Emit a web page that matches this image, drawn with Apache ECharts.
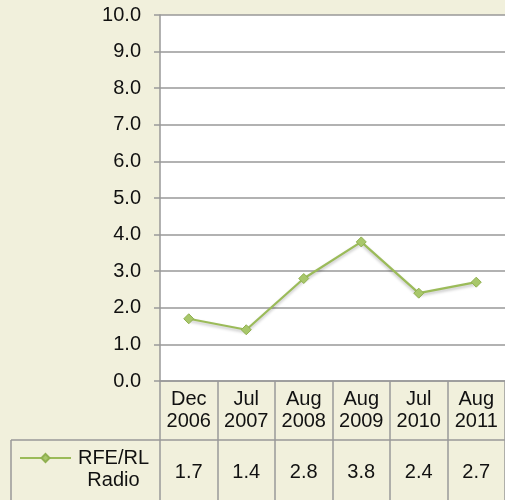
<!DOCTYPE html>
<html>
<head>
<meta charset="utf-8">
<script src="https://cdn.jsdelivr.net/npm/echarts@6/dist/echarts.min.js"></script>
<style>
html,body{margin:0;padding:0;background:#f1f0dc;}
#c{width:505px;height:500px;}
</style>
</head>
<body>
<div id="c"></div>
<script>
const categories = ['Dec\n2006', 'Jul\n2007', 'Aug\n2008', 'Aug\n2009', 'Jul\n2010', 'Aug\n2011'];
const seriesName = 'RFE/RL Radio';
const values = [1.7, 1.4, 2.8, 3.8, 2.4, 2.7];
const yTicks = [0, 1, 2, 3, 4, 5, 6, 7, 8, 9, 10];

const FONT = 'Liberation Sans, Arial, sans-serif';
const GRAY = '#999999';
const GREEN = '#9bbb59';

const chart = echarts.init(document.getElementById('c'), null, {renderer: 'canvas'});
chart.setOption({
  backgroundColor: '#f1f0dc',
  animation: false,
  textStyle: {fontFamily: FONT},
  grid: {left: 160, right: 0, top: 15, bottom: 119, show: true, backgroundColor: '#ffffff', borderWidth: 0},
  legend: {
    data: [seriesName],
    left: 19, top: 448, padding: 0,
    itemWidth: 51, itemHeight: 10,
    formatter: function (n) { return n.split(' ').map(function (s) { return '{a|' + s + '}'; }).join('\n'); },
    textStyle: {
      fontFamily: FONT, fontSize: 20, color: '#111', padding: [22, 0, 0, 0],
      rich: {a: {fontFamily: FONT, fontSize: 20, lineHeight: 22, width: 75, align: 'center', color: '#111'}}
    }
  },
  xAxis: [{
    type: 'category',
    data: categories,
    boundaryGap: true,
    axisLine: {show: true, lineStyle: {color: GRAY, width: 1.5}},
    axisTick: {show: true, interval: 0, length: 119, alignWithLabel: false, lineStyle: {color: GRAY, width: 1.5}},
    axisLabel: {interval: 0, fontFamily: FONT, fontSize: 20, lineHeight: 22, color: '#111', margin: 7, align: 'center'},
    splitLine: {show: false}
  }, {
    type: 'category',
    data: values.map(function (v) { return v.toFixed(1); }),
    position: 'bottom',
    offset: 59,
    boundaryGap: true,
    axisLine: {show: false},
    axisTick: {show: false},
    axisLabel: {interval: 0, fontFamily: FONT, fontSize: 20, color: '#111', margin: 22},
    splitLine: {show: false}
  }],
  yAxis: {
    type: 'value',
    min: yTicks[0], max: yTicks[yTicks.length - 1], interval: 1,
    axisLine: {show: true, lineStyle: {color: GRAY, width: 1.5}},
    axisTick: {show: true, length: 6, lineStyle: {color: GRAY, width: 1.5}},
    axisLabel: {fontFamily: FONT, fontSize: 20, color: '#111', margin: 19, formatter: function (v) { return v.toFixed(1); }},
    splitLine: {show: true, lineStyle: {color: GRAY, width: 1.5}}
  },
  graphic: [
    {type: 'line', shape: {x1: 11, y1: 440, x2: 505, y2: 440}, style: {stroke: GRAY, lineWidth: 1.5}, silent: true},
    {type: 'line', shape: {x1: 11, y1: 440, x2: 11, y2: 500}, style: {stroke: GRAY, lineWidth: 1.5}, silent: true}
  ],
  series: [{
    name: seriesName,
    type: 'line',
    data: values,
    symbol: 'diamond',
    symbolSize: 10,
    lineStyle: {color: GREEN, width: 2.2, shadowColor: 'rgba(0,0,0,0.25)', shadowBlur: 3, shadowOffsetY: 2},
    itemStyle: {color: '#a8c76a', borderColor: '#90b050', borderWidth: 1},
    z: 5
  }]
});
</script>
</body>
</html>
